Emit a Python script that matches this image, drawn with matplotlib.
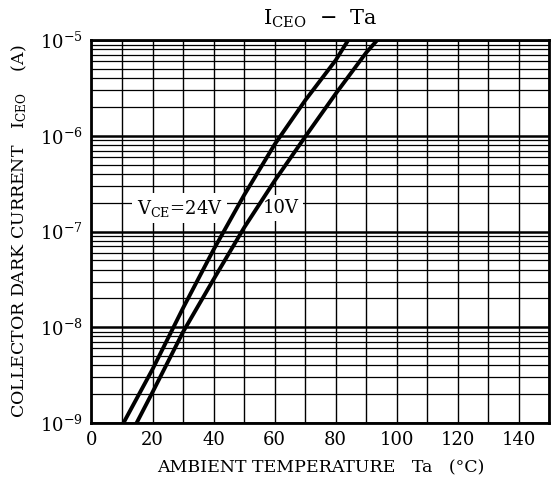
import matplotlib
matplotlib.use('Agg')
import matplotlib.pyplot as plt
from matplotlib.ticker import LogLocator, MultipleLocator

plt.rcParams['font.family'] = ['DejaVu Serif']
plt.rcParams['mathtext.fontset'] = 'dejavuserif'

# curves (Ta in degC, log10 of ICEO in A)
ta_24v = [10.5, 20, 30, 40, 50, 60, 70, 80, 84.1]
log_24v = [-9.0, -8.44, -7.80, -7.19, -6.62, -6.09, -5.63, -5.21, -5.0]
ta_10v = [14.8, 20, 30, 40, 50, 60, 70, 80, 90, 93.6]
log_10v = [-9.0, -8.68, -8.05, -7.50, -6.96, -6.47, -6.01, -5.56, -5.13, -5.0]

x_ticks = [0, 20, 40, 60, 80, 100, 120, 140]
y_ticks = [1e-9, 1e-8, 1e-7, 1e-6, 1e-5]
y_labels = [r'$10^{-9}$', r'$10^{-8}$', r'$10^{-7}$', r'$10^{-6}$', r'$10^{-5}$']

fig = plt.figure(figsize=(5.51, 4.90), dpi=100)
ax = fig.add_axes([0.166, 0.137, 0.831, 0.781])

ax.set_yscale('log')
ax.set_xlim(0, 150)
ax.set_ylim(1e-9, 1e-5)

ax.set_xticks(x_ticks)
ax.xaxis.set_minor_locator(MultipleLocator(10))
ax.set_yticks(y_ticks)
ax.set_yticklabels(y_labels)
ax.yaxis.set_minor_locator(LogLocator(base=10, subs=range(2, 10)))
ax.yaxis.set_minor_formatter(plt.NullFormatter())

ax.grid(which='major', axis='y', color='black', lw=1.8)
ax.grid(which='minor', axis='y', color='black', lw=0.9)
ax.grid(which='both', axis='x', color='black', lw=1.0)
ax.tick_params(which='both', length=0, labelsize=13, pad=6)
for s in ax.spines.values():
    s.set_linewidth(2)

ax.plot(ta_24v, [10 ** v for v in log_24v], color='black', lw=2.8, zorder=5)
ax.plot(ta_10v, [10 ** v for v in log_10v], color='black', lw=2.8, zorder=5)

box = dict(facecolor='white', edgecolor='none', pad=3)
ax.text(14.8, 1.76e-7, r'V$_{\mathregular{CE}}$=24V', fontsize=13, va='center',
        bbox=box, zorder=3)
ax.text(56.2, 1.76e-7, '10V', fontsize=13, va='center', bbox=box, zorder=3)

ax.set_title(r'I$_{\mathregular{CEO}}$  −  Ta', fontsize=15, pad=11)
ax.set_xlabel('AMBIENT TEMPERATURE   Ta   (°C)', fontsize=12.5, labelpad=7)
ax.set_ylabel(r'COLLECTOR DARK CURRENT   I$_{\mathregular{CEO}}$    (A)',
              fontsize=12.5, labelpad=8)

fig.savefig('out.png', dpi=100)
